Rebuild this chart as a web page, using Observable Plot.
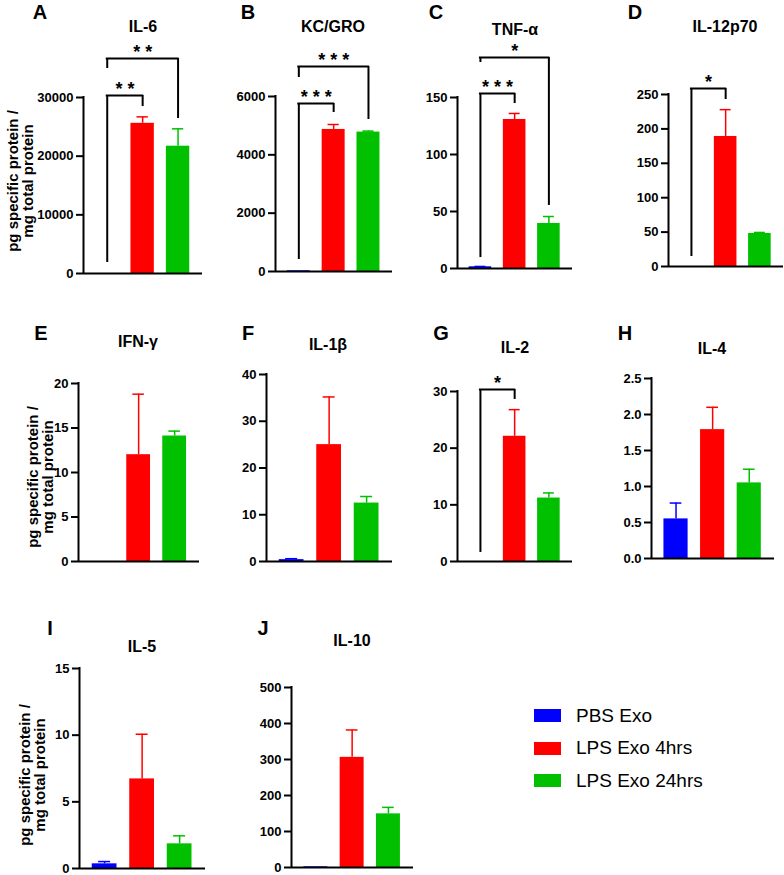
<!DOCTYPE html>
<html><head><meta charset="utf-8">
<script src="https://cdn.jsdelivr.net/npm/d3@7"></script>
<script src="https://cdn.jsdelivr.net/npm/@observablehq/plot@0.6"></script>
<style>
body{margin:0;background:#fff;}
#root{position:relative;width:784px;height:875px;overflow:hidden;font-family:"Liberation Sans",Arial,sans-serif;color:#000;}
.t{position:absolute;white-space:nowrap;transform:translate(-50%,-50%);font-weight:bold;}
.yl{position:absolute;white-space:nowrap;transform:translate(-50%,-50%) rotate(-90deg);font-weight:bold;font-size:15px;line-height:15px;text-align:center;}
.sw{position:absolute;width:27px;height:13px;}
.lg{position:absolute;white-space:nowrap;font-size:19px;transform:translateY(-50%);}
</style></head><body><div id="root"></div>
<script>
// ---- data ----
const panelLetters = ["A","B","C","D","E","F","G","H","I","J"];
const cytokines = ["IL-6","KC/GRO","TNF-α","IL-12p70","IFN-γ","IL-1β","IL-2","IL-4","IL-5","IL-10"];
const groups = ["PBS Exo","LPS Exo 4hrs","LPS Exo 24hrs"];
const groupColors = ["#0000ff","#ff0000","#00c000"];

const pbsMean   = [0, 25, 1.5, 0, 0, 0.4, 0, 0.55, 0.35, 2];
const pbsErr    = [0, 0, 0.3, 0, 0, 0.2, 0, 0.22, 0.17, 0];
const lps4Mean  = [25600, 4870, 130.7, 189, 12.0, 25.0, 22.1, 1.79, 6.72, 306];
const lps4Err   = [1100, 170, 5.3, 39, 6.8, 10.2, 4.7, 0.31, 3.35, 76];
const lps24Mean = [21700, 4780, 39.5, 48, 14.1, 12.5, 11.2, 1.05, 1.85, 149];
const lps24Err  = [2960, 35, 6.1, 1.5, 0.55, 1.4, 0.9, 0.19, 0.6, 18];

const yMax     = [30000, 6000, 150, 250, 20, 40, 30, 2.5, 15, 500];
const tickStep = [10000, 2000, 50, 50, 5, 10, 10, 0.5, 5, 100];

// significance brackets (group indices, values in data units)
const bracketPanel    = ["A","A","B","B","C","C","D","G"];
const bracketFrom     = [0,0,0,0,0,0,0,0];
const bracketTo       = [1,2,1,2,1,2,1,1];
const bracketLevel    = [30340, 36645, 5760, 7028, 153.5, 185, 258.7, 30.35];
const bracketLeftEnd  = [1875, 34940, 411, 6651, 9.6, 180.7, 14.5, 1.6];
const bracketRightEnd = [28465, 26420, 5451, 5211, 144.7, 55.3, 242.7, 28.6];
const bracketLabel    = ["**","**","***","***","***","*","*","*"];

// ---- layout (pixels) ----
const layout = [
  {x0:83,  x1:202, yb:273, yt:97,  tx:143, ty:27,  lx:40,  ly:12},
  {x0:275, x1:392, yb:271, yt:96,  tx:333, ty:27,  lx:248, ly:12},
  {x0:457, x1:572, yb:268, yt:97,  tx:515, ty:30,  lx:436, ly:12},
  {x0:668, x1:783, yb:266, yt:94,  tx:725, ty:27,  lx:635, ly:12},
  {x0:78,  x1:199, yb:561, yt:383, tx:138, ty:342, lx:41,  ly:333},
  {x0:266, x1:392, yb:561, yt:374, tx:328, ty:345, lx:248, ly:333},
  {x0:457, x1:572, yb:561, yt:391, tx:515, ty:348, lx:441, ly:333},
  {x0:651, x1:774, yb:558, yt:378, tx:712, ty:349, lx:625, ly:333},
  {x0:79,  x1:205, yb:868, yt:668, tx:142, ty:647, lx:50,  ly:628},
  {x0:291, x1:413, yb:867, yt:687, tx:352, ty:641, lx:263, ly:628}
];
const yLabelPos = [[19.5,181],[40,477],[31.5,775]];

const root = document.getElementById("root");
const means = [pbsMean, lps4Mean, lps24Mean];
const errs = [pbsErr, lps4Err, lps24Err];
const brackets = bracketPanel.map((p,j)=>({panel:p, from:bracketFrom[j], to:bracketTo[j], level:bracketLevel[j], leftEnd:bracketLeftEnd[j], rightEnd:bracketRightEnd[j], label:bracketLabel[j]}));

const XMIN = -0.67, XMAX = 2.69, HALF = 0.33, CAP = 0.16;

panelLetters.forEach((letter,k)=>{
  const L = layout[k];
  const mL = 60, mR = 2, mB = 4;
  const frameTop = L.yt - 75;
  const H = L.yb - frameTop;
  const yTop = yMax[k] * H / (L.yb - L.yt);
  const rows = groups.map((g,i)=>({i, group:g, value:means[i][k], err:errs[i][k]}));
  const withErr = rows.filter(d=>d.err>0);
  const ticks = d3.range(0, yMax[k] + tickStep[k]/2, tickStep[k]);
  const fmt = tickStep[k] < 1 ? d3.format(".1f") : d3.format("d");
  const br = brackets.filter(b=>b.panel===letter);
  const svg = Plot.plot({
    width: L.x1 - L.x0 + mL + mR,
    height: H + mB,
    marginLeft: mL, marginRight: mR, marginTop: 0, marginBottom: mB,
    x: {domain:[XMIN, XMAX], axis:null},
    y: {domain:[0, yTop], axis:null},
    color: {domain: groups, range: groupColors},
    style: {fontFamily:"Liberation Sans, Arial, sans-serif", fontSize:"13px", fontWeight:"bold", color:"#000", background:"transparent", overflow:"visible"},
    marks: [
      Plot.rectY(rows, {x1: d=>d.i-HALF, x2: d=>d.i+HALF, y1: 0, y2: "value", fill: "group"}),
      Plot.ruleX(withErr, {x: "i", y1: "value", y2: d=>d.value+d.err, stroke: "group", strokeWidth: 1.5}),
      Plot.ruleY(withErr, {y: d=>d.value+d.err, x1: d=>d.i-CAP, x2: d=>d.i+CAP, stroke: "group", strokeWidth: 1.5}),
      Plot.ruleY([0], {stroke:"#000", strokeWidth: 2}),
      Plot.ruleX([XMIN], {y1: 0, y2: yMax[k], stroke:"#000", strokeWidth: 2, strokeLinecap:"square"}),
      Plot.axisY(ticks, {tickSize: 7, tickPadding: 3, strokeWidth: 2, stroke:"#000", fill:"#000", fontSize: 13, fontWeight: "bold", tickFormat: fmt, label: null}),
      Plot.ruleX(br, {x: "from", y1: "leftEnd", y2: "level", stroke:"#000", strokeWidth: 2}),
      Plot.ruleX(br, {x: "to", y1: "rightEnd", y2: "level", stroke:"#000", strokeWidth: 2}),
      Plot.ruleY(br, {y: "level", x1: "from", x2: "to", stroke:"#000", strokeWidth: 2, strokeLinecap:"square"}),
      Plot.text(br, {x: d=>(d.from+d.to)/2, y: "level", text: d=>d.label.split("").join(" "), dy: -6, fontSize: 18, fontWeight: "bold"})
    ]
  });
  svg.style.position = "absolute";
  svg.style.left = (L.x0 - mL) + "px";
  svg.style.top = frameTop + "px";
  root.appendChild(svg);

  const title = document.createElement("div");
  title.className = "t"; title.style.fontSize = "16px";
  title.style.left = L.tx + "px"; title.style.top = L.ty + "px";
  title.textContent = cytokines[k];
  root.appendChild(title);

  const let_ = document.createElement("div");
  let_.className = "t"; let_.style.fontSize = "20px";
  let_.style.left = L.lx + "px"; let_.style.top = L.ly + "px";
  let_.textContent = letter;
  root.appendChild(let_);
});

yLabelPos.forEach(([cx,cy])=>{
  const d = document.createElement("div");
  d.className = "yl";
  d.style.left = cx + "px"; d.style.top = cy + "px";
  d.innerHTML = "pg specific protein /<br>mg total protein";
  root.appendChild(d);
});

// legend
const legendY = [715.5, 748, 780.5];
groups.forEach((g,i)=>{
  const s = document.createElement("div");
  s.className = "sw"; s.style.background = groupColors[i];
  s.style.left = "534px"; s.style.top = (legendY[i]-6.5) + "px";
  root.appendChild(s);
  const t = document.createElement("div");
  t.className = "lg"; t.style.left = "576px"; t.style.top = legendY[i] + "px";
  t.textContent = g;
  root.appendChild(t);
});
</script></body></html>
